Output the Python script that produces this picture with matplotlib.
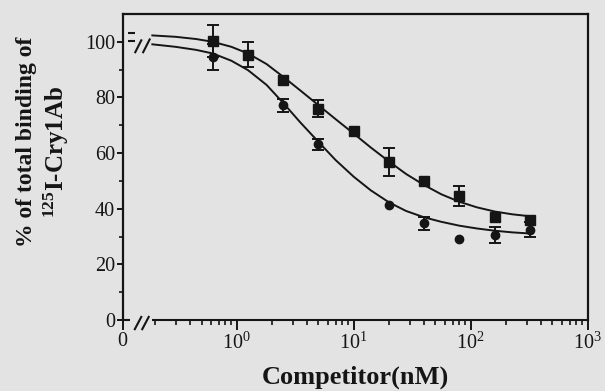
import numpy as np
import matplotlib
matplotlib.use('Agg')
import matplotlib.pyplot as plt
from matplotlib.ticker import FixedLocator, FixedFormatter, LogLocator, NullFormatter

plt.rcParams['font.family'] = ['Liberation Serif', 'DejaVu Serif']
plt.rcParams['mathtext.fontset'] = 'custom'
plt.rcParams['mathtext.rm'] = 'Liberation Serif'
plt.rcParams['mathtext.it'] = 'Liberation Serif:italic'
plt.rcParams['mathtext.bf'] = 'Liberation Serif:bold'

# competitor concentrations (nM) and % binding
conc_sq = [0.625, 1.25, 2.5, 5, 10, 20, 40, 80, 160, 320]
binding_sq = [100.3, 95.4, 86.4, 76.0, 68.0, 56.8, 50.0, 44.5, 37.1, 36.0]
err_sq = [5.6, 4.5, 0, 3.0, 0, 5.0, 0, 3.5, 0, 0]

conc_ci = [0.625, 2.5, 5, 20, 40, 80, 160, 320]
binding_ci = [94.6, 77.2, 63.2, 41.3, 34.7, 29.0, 30.5, 32.5]
err_ci = [4.6, 2.3, 2.0, 0, 2.4, 0, 2.8, 2.6]

# fitted curves
curve_x = [0.19, 0.3, 0.45, 0.625, 0.9, 1.25, 1.8, 2.5, 3.5, 5, 7, 10,
           14, 20, 28, 40, 56, 80, 113, 160, 226, 320]
curve_sq = [102.3, 101.8, 101.0, 100.0, 98.2, 95.8, 92.0, 87.4, 82.5, 77.2, 72.2, 67.0,
            62.0, 57.0, 52.5, 48.5, 45.2, 42.5, 40.5, 39.0, 38.0, 37.3]
curve_ci = [99.1, 98.2, 97.1, 95.8, 93.2, 89.8, 84.5, 78.0, 71.0, 64.0, 57.5, 51.5,
            46.6, 42.3, 39.2, 36.9, 35.3, 33.9, 32.9, 32.1, 31.5, 31.1]

xtick_vals = [1, 10, 100, 1000]
xtick_labels = ['0', r'$10^0$', r'$10^1$', r'$10^2$', r'$10^3$']
ytick_vals = [0, 20, 40, 60, 80, 100]

XMIN = 0.106
bg = '#e3e3e3'
ink = '#151515'

fig = plt.figure(figsize=(6.05, 3.91), dpi=100, facecolor=bg)
ax = fig.add_axes([0.2028, 0.1816, 0.7686, 0.7826], facecolor=bg)

ax.set_xscale('log')
ax.set_xlim(XMIN, 1000)
ax.set_ylim(0, 110)

# curves
ax.plot(curve_x, curve_sq, color=ink, lw=1.4)
ax.plot(curve_x, curve_ci, color=ink, lw=1.4)

# markers + error bars
def draw_points(xs, ys, es, marker, ms):
    xs, ys, es = np.array(xs), np.array(ys), np.array(es)
    has = es > 0
    ax.errorbar(xs[has], ys[has], yerr=es[has], fmt='none', ecolor=ink,
                elinewidth=1.4, capsize=4, capthick=1.4)
    ax.plot(xs, ys, marker, color=ink, ms=ms, ls='none')

draw_points(conc_sq, binding_sq, err_sq, 's', 6.5)
draw_points(conc_ci, binding_ci, err_ci, 'o', 6)

# spines
for s in ['left', 'top', 'right']:
    ax.spines[s].set_linewidth(1.6)
    ax.spines[s].set_color(ink)
ax.spines['bottom'].set_visible(False)

tr = ax.transAxes
kw = dict(transform=tr, color=ink, lw=1.5, clip_on=False, solid_capstyle='butt')
# broken x axis
ax.plot([0, 0.016], [0, 0], **kw)
ax.plot([0.062, 1], [0, 0], **kw)
ax.plot([0.025, 0.041], [-0.033, 0.013], **kw)
ax.plot([0.041, 0.057], [-0.033, 0.013], **kw)
# break marks at curve starts
ax.plot([0.026, 0.041], [0.872, 0.917], **kw)
ax.plot([0.043, 0.059], [0.872, 0.920], **kw)
# zero-dose marks
ax.plot([0.012, 0.026], [0.937, 0.937], **kw)
ax.plot([0.012, 0.026], [0.913, 0.913], **kw)

# ticks
ax.xaxis.set_major_locator(FixedLocator([XMIN] + xtick_vals))
ax.xaxis.set_major_formatter(FixedFormatter(xtick_labels))
ax.xaxis.set_minor_locator(LogLocator(base=10, subs=np.arange(2, 10)))
ax.xaxis.set_minor_formatter(NullFormatter())
ax.yaxis.set_major_locator(FixedLocator(ytick_vals))
ax.yaxis.set_minor_locator(FixedLocator([10, 30, 50, 70, 90]))
ax.tick_params(axis='x', which='major', length=7, width=1.4, color=ink,
               labelsize=14.5, pad=2, labelcolor=ink)
ax.tick_params(axis='x', which='minor', length=3.5, width=1.2, color=ink)
ax.tick_params(axis='y', which='major', length=4.5, width=1.4, color=ink,
               labelsize=14.5, pad=1, labelcolor=ink)
ax.tick_params(axis='y', which='minor', length=3, width=1.2, color=ink)
ax.tick_params(top=False, right=False, which='both')

# labels
fig.text(0.587, 0.018, 'Competitor(nM)', ha='center', va='baseline',
         fontsize=19, fontweight='bold', color=ink)
fig.text(0.043, 0.638, '% of total binding of', rotation=90, ha='center',
         va='center', fontsize=17, fontweight='bold', color=ink)
fig.text(0.093, 0.6125, r'$\mathbf{^{125}}$I-Cry1Ab', rotation=90, ha='center',
         va='center', fontsize=18, fontweight='bold', color=ink)

fig.savefig('out.png', dpi=100, facecolor=bg)
